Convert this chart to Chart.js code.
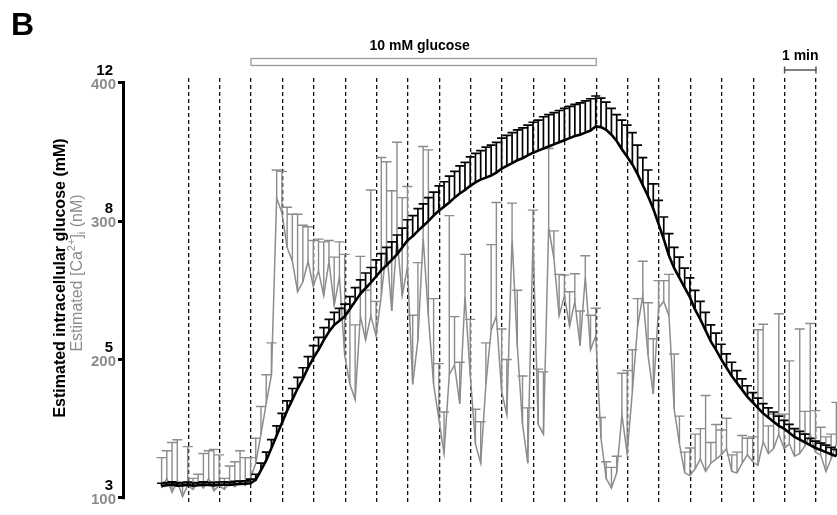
<!DOCTYPE html>
<html>
<head>
<meta charset="utf-8">
<script src="https://cdn.jsdelivr.net/npm/chart.js@4.4.1/dist/chart.umd.min.js"></script>
<style>
  html, body { margin: 0; padding: 0; background: #fff; }
  #wrap { width: 837px; height: 515px; position: relative; }
</style>
</head>
<body>
<div id="wrap"><canvas id="myChart"></canvas></div>
<script>
// sampling: one point every 10 s, first sample 0.15 min into the record
const startMin = 0.15;
const stepMin = 1 / 6;

const glucoseMean = [
  108.5, 109, 109.5, 108.8, 109, 109.3, 108.7, 109, 109.5, 109.2, 108.9, 109.4, 109.6, 109.2, 109.8, 110, 110.2,
  110.5, 113, 120, 127, 136, 145, 154, 163, 171, 179, 186, 194, 201, 207, 214, 220, 225, 228, 231,
  236.5, 242, 247.5, 251.5, 255.5, 260, 264.5, 268, 272, 276, 281, 286, 289, 293, 296.5,
  300, 304, 307.5, 310.5, 313.5, 317, 320, 322.5, 325.5, 328, 330, 331.5, 333, 335, 338, 340, 342, 344, 345.5, 347.5,
  349.5, 351, 352.5, 354, 355.5, 357, 358.5, 360, 361.5, 362.5, 364, 365.5, 368.5,
  368, 366, 362.5, 358, 352, 346.5, 341,
  334, 326, 318, 309, 298, 287, 275, 266, 259,
  252, 245, 236, 229, 221, 213, 207, 200, 194, 188, 183,
  178, 173, 169, 165, 161, 158, 155, 152, 150, 147, 144, 142, 140, 138, 136, 134.5, 133, 131.5, 130
];
const glucoseErr = [
  2, 2, 2, 2, 2, 2, 2, 2, 2, 2, 2, 2, 2, 2, 2, 2, 2,
  3, 4, 5, 6, 6, 7, 7, 7, 8, 8, 8, 8, 9, 9, 9, 9, 9, 9, 9,
  9, 10, 10, 11, 11, 12, 12, 13, 13, 14, 14, 15, 15, 16, 16,
  17, 17, 18, 18, 19, 19, 20, 20, 21, 21, 21, 22, 22, 22, 22, 22, 22, 22, 22, 22,
  22, 22, 23, 23, 23, 23, 23, 23, 23, 23, 23, 23, 22,
  21, 20, 19, 19, 21, 23, 23,
  21, 20, 19, 18, 17, 16, 16, 15, 15,
  14, 14, 14, 13, 13, 12, 12, 11, 10, 10, 9,
  8, 8, 7, 7, 7, 7, 7, 7, 6, 6, 6, 6, 6, 5, 5, 5, 5, 5, 5
];

// [Ca2+]i trace (nM)
const calciumMean = [
  107, 114, 104, 112, 101, 109, 106, 111, 107, 114, 105, 109, 106, 111, 108, 112, 109,
  114, 125, 146, 168, 189, 317, 306, 281, 271, 249, 256, 271, 253, 264, 246, 271,
  239, 260, 203, 182, 171, 231.5, 214, 231.5, 217, 246, 281, 235, 288, 246, 267, 182, 214, 288,
  231.5, 182, 157, 132, 189, 196, 168, 246, 189, 139, 125, 182, 221, 231.5, 177, 160, 288, 210, 153, 125,
  288, 153, 146, 295.5, 273, 231.5, 246, 224, 242, 210, 260, 207, 217, 143, 114, 107, 118, 160, 132, 177,
  224, 246, 203, 175, 237, 242, 231.5, 164, 139, 118, 116, 121, 128, 119, 125, 128, 131, 135.5, 119, 118,
  125, 131, 126, 123.5, 140.5, 132, 135.5, 146, 135.5, 139, 130, 132, 137.5, 146, 133, 131, 119, 128, 139
];
const calciumErr = [
  22, 20, 36, 30, 10, 28, 8, 6, 25, 20, 30, 22, 8, 12, 18, 22, 20,
  15, 18, 20, 21, 23, 20, 30, 29, 34, 56, 41, 25, 33, 23, 39, 15,
  35, 25, 73, 58, 54, 43, 36, 91, 25, 100, 62, 87, 69, 71, 58, 50, 56, 66,
  120, 62, 40, 30, 115, 35, 30, 30, 40, 25, 30, 30, 62, 82, 45, 40, 25, 40, 35, 40,
  20, 40, 45, 57, 20, 30, 15, 25, 20, 25, 15, 25, 20, 15, 12, 15, 12, 30, 60, 30,
  20, 25, 38, 40, 20, 15, 30, 40, 20, 15, 20, 25, 22, 55, 15, 25, 18, 22, 12, 15,
  20, 12, 18, 98, 85, 20, 25, 87, 25, 60, 20, 90, 25, 80, 30, 20, 25, 18, 30
];

// axis ticks
const caTicks = [100, 200, 300, 400];
const glucoseTicks = ['3', '5', '8', '12'];
const minuteMarks = [1, 2, 3, 4, 5, 6, 7, 8, 9, 10, 11, 12, 13, 14, 15, 16, 17, 18, 19, 20, 21];
const glucoseOn = [3, 14];   // minutes with 10 mM glucose
const scaleBar = [20, 21];   // 1 min

const fontFamily = '"Liberation Sans", Arial, sans-serif';

const glucosePoints = glucoseMean.map((v, i) => ({ x: startMin + i * stepMin, y: v }));
const calciumPoints = calciumMean.map((v, i) => ({ x: startMin + i * stepMin, y: v }));

// upward error bars with caps, drawn right after each dataset's line
const errorBars = {
  id: 'errorBars',
  afterDatasetDraw(chart, args) {
    const ds = chart.data.datasets[args.index];
    if (!ds.errors) return;
    const xs = chart.scales.x, ys = chart.scales.y, ctx = chart.ctx;
    const area = chart.chartArea;
    ctx.save();
    ctx.beginPath();
    ctx.rect(area.left, 0, area.right - area.left, area.bottom);
    ctx.clip();
    ctx.strokeStyle = ds.borderColor;
    ctx.lineWidth = ds.errWidth;
    ds.data.forEach((p, i) => {
      const px = xs.getPixelForValue(p.x);
      const py = ys.getPixelForValue(p.y);
      const pt = ys.getPixelForValue(p.y + ds.errors[i]);
      ctx.beginPath();
      ctx.moveTo(px, py);
      ctx.lineTo(px, pt);
      ctx.moveTo(px - ds.capWidth / 2, pt);
      ctx.lineTo(px + ds.capWidth / 2, pt);
      ctx.stroke();
    });
    ctx.restore();
  }
};

// panel letter, axis line, second set of tick labels, titles, glucose bar, scale bar
const annotations = {
  id: 'annotations',
  afterDraw(chart) {
    const ctx = chart.ctx, xs = chart.scales.x, ys = chart.scales.y;
    const left = chart.chartArea.left;
    ctx.save();

    ctx.fillStyle = '#000';
    ctx.font = 'bold 32px ' + fontFamily;
    ctx.textAlign = 'left';
    ctx.textBaseline = 'alphabetic';
    ctx.fillText('B', 11, 35);

    // y axis line (bracket between 100 and 400)
    ctx.strokeStyle = '#000';
    ctx.lineWidth = 3;
    ctx.beginPath();
    ctx.moveTo(left - 1.5, ys.getPixelForValue(caTicks[caTicks.length - 1]) - 1.5);
    ctx.lineTo(left - 1.5, ys.getPixelForValue(caTicks[0]) + 1.5);
    ctx.stroke();

    // glucose labels sit above the Ca labels
    ctx.font = 'bold 15px ' + fontFamily;
    ctx.textAlign = 'right';
    ctx.textBaseline = 'middle';
    caTicks.forEach((v, i) => {
      ctx.fillText(glucoseTicks[i], left - 12, ys.getPixelForValue(v) - 12);
    });

    // black title
    ctx.save();
    ctx.translate(61, 278);
    ctx.rotate(-Math.PI / 2);
    ctx.textAlign = 'center';
    ctx.textBaseline = 'middle';
    ctx.font = 'bold 16px ' + fontFamily;
    ctx.fillText('Estimated intracellular glucose (mM)', 0, 0);
    ctx.restore();

    // grey title with super/subscript
    const parts = [
      ['Estimated [Ca', 16, 0],
      ['2+', 11, -6],
      [']', 16, 0],
      ['i', 11, 4],
      [' (nM)', 16, 0]
    ];
    ctx.save();
    ctx.translate(78, 273);
    ctx.rotate(-Math.PI / 2);
    ctx.fillStyle = '#8c8c8c';
    ctx.textAlign = 'left';
    ctx.textBaseline = 'middle';
    let total = 0;
    parts.forEach(p => { ctx.font = p[1] + 'px ' + fontFamily; total += ctx.measureText(p[0]).width; });
    let cx = -total / 2;
    parts.forEach(p => {
      ctx.font = p[1] + 'px ' + fontFamily;
      ctx.fillText(p[0], cx, p[2]);
      cx += ctx.measureText(p[0]).width;
    });
    ctx.restore();

    // glucose application bar
    const g0 = xs.getPixelForValue(glucoseOn[0]), g1 = xs.getPixelForValue(glucoseOn[1]);
    ctx.strokeStyle = '#9a9a9a';
    ctx.lineWidth = 1.3;
    ctx.strokeRect(g0, 58.5, g1 - g0, 7);
    ctx.fillStyle = '#000';
    ctx.font = 'bold 14px ' + fontFamily;
    ctx.textAlign = 'center';
    ctx.textBaseline = 'middle';
    ctx.fillText('10 mM glucose', (g0 + g1) / 2 - 4, 46);

    // 1 min scale bar
    const s0 = xs.getPixelForValue(scaleBar[0]), s1 = xs.getPixelForValue(scaleBar[1]);
    ctx.fillText('1 min', (s0 + s1) / 2, 56);
    ctx.strokeStyle = '#555';
    ctx.lineWidth = 1.5;
    ctx.beginPath();
    ctx.moveTo(s0, 70); ctx.lineTo(s1, 70);
    ctx.moveTo(s0, 66.5); ctx.lineTo(s0, 73.5);
    ctx.moveTo(s1, 66.5); ctx.lineTo(s1, 73.5);
    ctx.stroke();

    ctx.restore();
  }
};

const chartElement = document.getElementById('myChart');
new Chart(chartElement, {
  type: 'line',
  data: {
    datasets: [
      {
        label: 'Estimated intracellular glucose',
        data: glucosePoints,
        borderColor: '#000',
        borderWidth: 2.6,
        pointRadius: 0,
        errors: glucoseErr,
        capWidth: 9,
        errWidth: 1.7,
        order: 1
      },
      {
        label: 'Estimated [Ca2+]i',
        data: calciumPoints,
        borderColor: '#8c8c8c',
        borderWidth: 1.5,
        pointRadius: 0,
        errors: calciumErr,
        capWidth: 10,
        errWidth: 1.4,
        order: 2
      }
    ]
  },
  options: {
    responsive: true,
    maintainAspectRatio: false,
    animation: false,
    layout: { padding: { top: 78, bottom: 3, left: 0, right: 0 } },
    plugins: { legend: { display: false }, tooltip: { enabled: false } },
    scales: {
      x: {
        type: 'linear',
        min: -1.016,
        max: 21.67,
        afterBuildTicks: axis => { axis.ticks = minuteMarks.map(v => ({ value: v })); },
        afterFit: axis => { axis.height = 0; },
        ticks: { display: false },
        grid: { color: '#111', lineWidth: 1.3, drawTicks: false },
        border: { display: false, dash: [4, 3] }
      },
      y: {
        min: 95.5,
        max: 403.5,
        afterBuildTicks: axis => { axis.ticks = caTicks.map(v => ({ value: v })); },
        afterFit: axis => { axis.width = 125; },
        ticks: {
          color: '#8c8c8c',
          font: { family: fontFamily, size: 15, weight: 'bold' },
          padding: 2,
          labelOffset: 2
        },
        grid: { drawOnChartArea: false, drawTicks: true, tickLength: 7, tickWidth: 3, tickColor: '#000' },
        border: { display: false }
      }
    }
  },
  plugins: [errorBars, annotations]
});
</script>
</body>
</html>
